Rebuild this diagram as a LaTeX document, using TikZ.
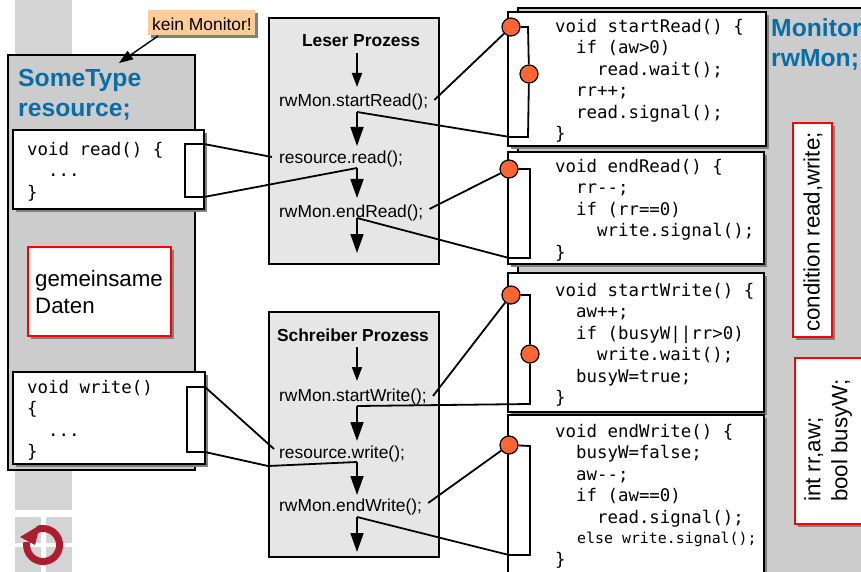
\documentclass[tikz,border=0pt]{standalone}
\usepackage{fontspec}
\setmainfont{Liberation Sans}
\newfontfamily\codefont{DejaVu Sans Mono}
\usetikzlibrary{arrows.meta,shadows}
\definecolor{panelgray}{HTML}{CCCCCC}
\definecolor{procgray}{HTML}{E6E6E6}
\definecolor{stripgray}{HTML}{D4D4D4}
\definecolor{titleblue}{HTML}{0A6EA6}
\definecolor{dotorange}{HTML}{FF6633}
\definecolor{notepeach}{HTML}{FFCC99}
\definecolor{logored}{HTML}{AE1C30}
\newcommand\ind{\hspace*{1.204em}}
\tikzset{
  panel/.style={draw=black,line width=1.2pt,fill=panelgray,anchor=north west,inner sep=0pt,outer sep=0pt},
  procbox/.style={panel,fill=procgray},
  codebox/.style={draw=black,line width=1.4pt,fill=white,anchor=north west,inner sep=0pt,outer sep=0pt,
    drop shadow={shadow xshift=3pt,shadow yshift=-3pt,opacity=1,fill=gray}},
  redbox/.style={codebox,draw=red},
  codetext/.style={anchor=north west,inner sep=0pt,align=left,font=\codefont\fontsize{17.4}{21.4}\selectfont},
  calltext/.style={anchor=west,inner sep=0pt,font=\fontsize{17.4}{20}\selectfont},
  headtext/.style={inner sep=0pt,font=\bfseries\fontsize{17.4}{20}\selectfont},
  titletext/.style={anchor=north west,inner sep=0pt,align=left,text=titleblue,font=\bfseries\fontsize{24.7}{30.5}\selectfont},
  datatext/.style={inner sep=0pt,align=left,font=\fontsize{22.3}{27}\selectfont},
  dot/.style={circle,draw=black,line width=1.2pt,fill=dotorange,minimum size=18pt,inner sep=0pt},
  link/.style={line width=1.8pt},
  flow/.style={line width=1.8pt,-{Triangle[width=10pt,length=14pt]}},
  bigflow/.style={line width=1.8pt,-{Triangle[width=13pt,length=19pt]}},
}
\begin{document}
\begin{tikzpicture}[x=1pt,y=-1pt]
\useasboundingbox (0,0) rectangle (861,572);
% strip and logo
\fill[stripgray] (15,0) rectangle (72,60);
\fill[stripgray] (15,465) rectangle (72,510);
\foreach \x/\y in {15/517,46/517,15/547,46/547} \fill[stripgray] (\x,\y) rectangle ++(26,25.5);
\draw[logored,line width=7pt] (37.4,529.5) arc (-110:190:16.5);
\fill[logored] (20,537) -- (40,525) -- (35,545) -- cycle;
% left panel
\node[panel,minimum width=187pt,minimum height=415pt] (sometype) at (8,55) {};
\node[titletext] (sometypetitle) at (18,69) {SomeType\\resource;};
\node[codebox,minimum width=191pt,minimum height=79pt] (readbox) at (13,130) {};
\node[codetext] (readcode) at (27,142) {void read() \{\\\ind...\\\}};
\draw[link] (185,144) rectangle (204,197);
\node[redbox,minimum width=143pt,minimum height=89pt] (datenbox) at (28,247) {};
\node[datatext,anchor=west] (datentext) at (35,292) {gemeinsame\\Daten};
\node[codebox,minimum width=192pt,minimum height=92pt] (writebox) at (13,372) {};
\node[codetext] (writecode) at (27,380) {void write()\\\{\\\ind...\\\}};
\draw[link] (187,387) rectangle (205,452);
% note
\node[anchor=north west,fill=notepeach,minimum width=107pt,minimum height=25pt,inner sep=0pt,
  drop shadow={shadow xshift=3pt,shadow yshift=-3pt,opacity=1,fill=gray}] (notebox) at (148,10) {};
\node[calltext] (notetext) at (152,24) {kein Monitor!};
\coordinate (notetip) at (119,63);
\coordinate (notefoot) at (158,36);
\draw[line width=1.4pt,-{Triangle[width=10pt,length=14pt]}] (notefoot) -- (notetip);
% monitor panel
\node[panel,minimum width=350pt,minimum height=570pt] (monitor) at (518,8) {};
\node[titletext] (monitortitle) at (771,18) {Monitor\\rwMon;};
\node[codebox,minimum width=258pt,minimum height=134pt] (startreadbox) at (508,12) {};
\node[codebox,minimum width=256pt,minimum height=112pt] (endreadbox) at (508,152) {};
\node[codebox,minimum width=256pt,minimum height=139pt] (startwritebox) at (508,273) {};
\node[codebox,minimum width=256pt,minimum height=170pt] (endwritebox) at (508,415) {};
\node[codetext] (startreadcode) at (555,19) {void startRead() \{\\\ind if (aw>0)\\\ind\ind read.wait();\\\ind rr++;\\\ind read.signal();\\\}};
\node[codetext] (endreadcode) at (555,159) {void endRead() \{\\\ind rr--;\\\ind if (rr==0)\\\ind\ind write.signal();\\\}};
\node[codetext] (startwritecode) at (555,283) {void startWrite() \{\\\ind aw++;\\\ind if (busyW||rr>0)\\\ind\ind write.wait();\\\ind busyW=true;\\\}};
\node[codetext] (endwritecode) at (555,424) {void endWrite() \{\\\ind busyW=false;\\\ind aw--;\\\ind if (aw==0)\\\ind\ind read.signal();\\[21.4pt]\}};
\node[anchor=west,inner sep=0pt,font=\codefont\fontsize{14.9}{18}\selectfont] (elsecode) at (577,539) {else write.signal();};
\node[redbox,minimum width=39pt,minimum height=214pt] (condbox) at (793,123) {};
\node[datatext,rotate=90,anchor=west] (condtext) at (813,332) {condition read,write;};
\node[redbox,minimum width=75pt,minimum height=166pt] (intbox) at (795,358) {};
\node[datatext,rotate=90,anchor=north west] (inttext) at (804,502) {int rr,aw;\\bool busyW;};
% Leser Prozess
\node[procbox,minimum width=170pt,minimum height=246pt] (leser) at (269,18) {};
\node[headtext] (leserhead) at (361,41) {Leser Prozess};
\node[calltext] (startread) at (279,102) {rwMon.startRead();};
\node[calltext] (resread) at (279,159) {resource.read();};
\node[calltext] (endread) at (279,213) {rwMon.endRead();};
% Schreiber Prozess
\node[procbox,minimum width=170pt,minimum height=245pt] (schreiber) at (269,312) {};
\node[headtext] (schreiberhead) at (353,335) {Schreiber Prozess};
\node[calltext] (startwrite) at (279,397) {rwMon.startWrite();};
\node[calltext] (reswrite) at (279,454) {resource.write();};
\node[calltext] (endwrite) at (279,507) {rwMon.endWrite();};
% flow arrows
\foreach \n/\a/\b/\c in {la/53/87/flow,lb/112/146/bigflow,lc/168/198/bigflow,ld/218/253/bigflow,
  sa/347/381/flow,sb/406/441/bigflow,sc/462/495/bigflow,sd/517/552/bigflow} {
  \coordinate (from\n) at (357,\a);
  \coordinate (to\n) at (357,\b);
  \draw[\c] (from\n) -- (to\n);
}
% dots
\node[dot] (dotsr) at (511,27) {};
\node[dot] (dotsrw) at (529,74) {};
\node[dot] (doter) at (509,169) {};
\node[dot] (dotsw) at (511,295) {};
\node[dot] (dotsww) at (530,354) {};
\node[dot] (dotew) at (509,445) {};
% links to the monitor
\draw[link] (startread.east)++(6,-2) -- (dotsr);
\draw[link] (endread.east)++(6,-4) -- (doter);
\draw[link] (startwrite.east)++(6,-1) -- (dotsw);
\draw[link] (endwrite.east)++(6,-4) -- (dotew);
\draw[link] (dotsr) -- (528,27) -- (dotsrw) -- (528,137) -- (510,137) -- (fromlb);
\draw[link] (doter) -- (530,169) -- (530,258) -- (509,258) -- (fromld);
\draw[link] (dotsw) -- (530,295) -- (dotsww) -- (530,404) -- (fromsb);
\draw[link] (dotew) -- (530,446) -- (530,555) -- (509,555) -- (fromsd);
% links to the resource
\coordinate (resreadend) at (272,157);
\coordinate (reswriteend) at (274,449);
\draw[link] (204,144) -- (resreadend);
\draw[link] (204,197) -- (fromlc);
\draw[link] (205,387) -- (reswriteend);
\draw[link] (205,452) -- (268,466) -- (fromsc);
\end{tikzpicture}
\end{document}
